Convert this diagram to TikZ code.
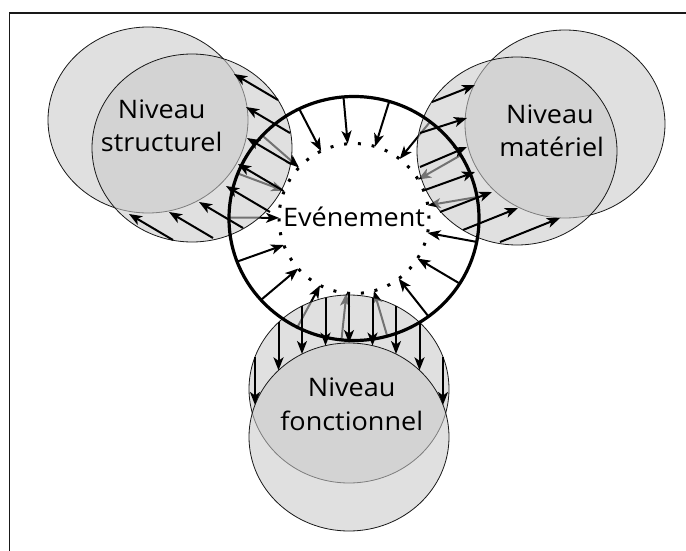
\documentclass[tikz,border=0pt]{standalone}
\usepackage{fontspec}
\newfontfamily\lvlfont[FakeStretch=1.06]{Open Sans}
\usetikzlibrary{arrows.meta,calc}
\definecolor{levfill}{gray}{0.79}
\begin{document}
\begin{tikzpicture}[x=1pt,y=-1pt,
  arr/.style={line width=2pt, -{Stealth[length=13pt,width=10pt,inset=3.5pt]}},
  lev/.style={fill=levfill, fill opacity=0.57, draw=black!90, line width=0.8pt},
  lbl/.style={font=\lvlfont\fontsize{25.5}{35}\selectfont, inner sep=0pt, anchor=base},
]
\useasboundingbox (0,0) rectangle (686,551);
% frame
\draw[line width=1.8pt, black!90] (686,13) -- (9.5,13) -- (9.5,551);
\coordinate (O) at (354,218.5);
% ring arrows (inward)
\foreach \k in {0,...,16}{
  \pgfmathsetmacro\ang{-116+\k*360/17}
  \draw[arr] ($(O)+(\ang:125 and 122)$) -- ($(O)+(\ang:75)$);
}
% levels
\path[lev] (148,120) ellipse [x radius=100pt, y radius=93pt];
\path[lev] (192,148) ellipse [x radius=100pt, y radius=94pt];
\path[lev] (565,124) ellipse [x radius=100pt, y radius=94pt];
\path[lev] (517,151) ellipse [x radius=100pt, y radius=94pt];
\path[lev] (349,389) ellipse [x radius=100pt, y radius=94pt];
\path[lev] (349,437) ellipse [x radius=100pt, y radius=94pt];
% event
\draw[line width=3.2pt] (O) ellipse [x radius=125pt, y radius=122pt];
\draw[line width=3pt, dash pattern=on 3pt off 10.86pt] (O) circle [radius=75pt];
% structurel outward arrows
\foreach \tx/\ty in {278/100, 290/133, 291/164, 282/190, 270/212, 243/228, 213/238, 173/240}{
  \draw[arr] (\tx,\ty) -- ++(-44,-26);
}
% materiel outward arrows
\draw[arr] (432,102) -- (475,85);
\draw[arr] (420,133) -- (467,118);
\draw[arr] (420,167) -- (467,147);
\draw[arr] (425,190) -- (475,172);
\draw[arr] (440,212) -- (492,192);
\draw[arr] (463,230) -- (518,208);
\draw[arr] (500,242) -- (560,218);
% fonctionnel outward arrows
\foreach \k in {-4,...,4}{
  \pgfmathsetmacro\fx{349+\k*23.5}
  \pgfmathsetmacro\fy{389-94*sqrt(1-((\fx-349)/100)^2)}
  \draw[arr] (\fx,\fy) -- ++(0,48);
}
% labels
\node[lbl] (ev) at (354,226.7) {Evénement};
\node[lbl] (s1) at (161.7,118.3) {Niveau};
\node[lbl] (s2) at (161.7,151.7) {structurel};
\node[lbl] (m1) at (550,123) {Niveau};
\node[lbl] (m2) at (551.7,156.7) {matériel};
\node[lbl] (f1) at (351.7,396) {Niveau};
\node[lbl] (f2) at (351.7,430.7) {fonctionnel};
\end{tikzpicture}
\end{document}
